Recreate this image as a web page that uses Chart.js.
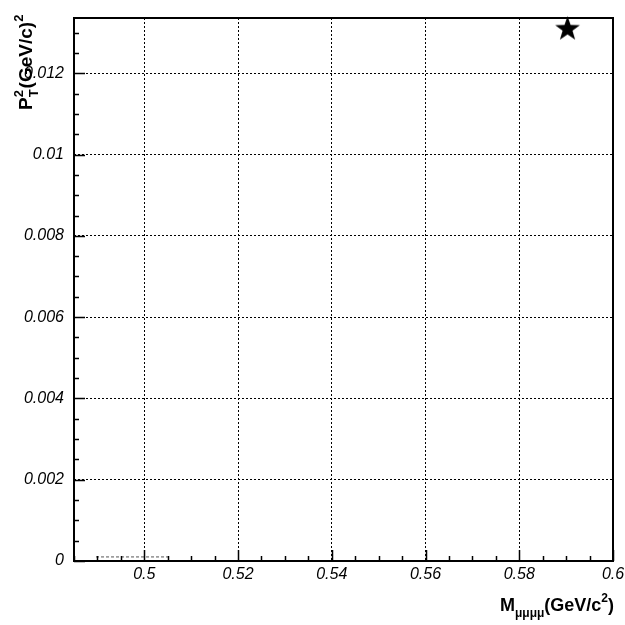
<!DOCTYPE html>
<html>
<head>
<meta charset="UTF-8">
<title>PT2 vs M</title>
<script src="https://cdn.jsdelivr.net/npm/chart.js"></script>
<style>
  body { margin: 0; background: #fff; }
  #plot { display: block; }
</style>
</head>
<body>
<canvas id="plot" width="625" height="625"></canvas>
<script>
// axis ranges and tick labels
const X_RANGE = [0.485, 0.6];
const Y_RANGE = [0, 0.01336];
const X_TICKS = [0.5, 0.52, 0.54, 0.56, 0.58, 0.6];
const X_LABELS = ['0.5', '0.52', '0.54', '0.56', '0.58', '0.6'];
const Y_TICKS = [0, 0.002, 0.004, 0.006, 0.008, 0.01, 0.012];
const Y_LABELS = ['0', '0.002', '0.004', '0.006', '0.008', '0.01', '0.012'];
const X_MINOR = 0.005;
const Y_MINOR = 0.0005;

// the single candidate event
const eventM = [0.5903];
const eventPt2 = [0.01311];

// faint dashed segment along the bottom
const segM = [0.4897, 0.5056];
const segPt2 = [0.0001, 0.0001];

const FONT = "'Liberation Sans', Arial, Helvetica, sans-serif";

// filled five-point star used as the marker
function makeStar(size) {
  const c = document.createElement('canvas');
  c.width = size; c.height = size;
  const g = c.getContext('2d');
  const cx = size / 2, cy = size / 2 + 1, R = size / 2 - 0.5, r = R * 0.4;
  g.beginPath();
  for (let i = 0; i < 10; i++) {
    const rad = i % 2 ? r : R;
    const a = -Math.PI / 2 + i * Math.PI / 5;
    g.lineTo(cx + rad * Math.cos(a), cy + rad * Math.sin(a));
  }
  g.closePath();
  g.fillStyle = '#000';
  g.fill();
  return c;
}
const star = makeStar(27);

// frame, inward ticks and axis titles
const decor = {
  id: 'decor',
  afterDraw(chart) {
    const ctx = chart.ctx;
    const a = chart.chartArea;
    const xs = chart.scales.x, ys = chart.scales.y;
    ctx.save();
    ctx.strokeStyle = '#000';
    ctx.lineWidth = 1.5;
    ctx.beginPath();
    // x ticks
    for (let v = 0.485; v <= X_RANGE[1] + 1e-9; v += X_MINOR) {
      const major = X_TICKS.some(t => Math.abs(t - v) < 1e-6);
      const px = Math.round(xs.getPixelForValue(v)) + 0.5;
      ctx.moveTo(px, a.bottom);
      ctx.lineTo(px, a.bottom - (major ? 11 : 5));
    }
    // y ticks
    for (let v = 0; v <= Y_RANGE[1] + 1e-9; v += Y_MINOR) {
      const major = Y_TICKS.some(t => Math.abs(t - v) < 1e-7);
      const py = Math.round(ys.getPixelForValue(v)) + 0.5;
      ctx.moveTo(a.left, py);
      ctx.lineTo(a.left + (major ? 11 : 5), py);
    }
    ctx.stroke();
    ctx.lineWidth = 2;
    ctx.strokeRect(a.left, a.top, a.right - a.left, a.bottom - a.top);

    ctx.fillStyle = '#000';
    ctx.textBaseline = 'alphabetic';
    // x title: M_{μμμμ}(GeV/c^{2})
    const big = 'bold 18px ' + FONT, small = 'bold 12px ' + FONT;
    const parts = [
      { t: 'M', f: big, dy: 0 },
      { t: 'μμμμ', f: small, dy: 6 },
      { t: '(GeV/c', f: big, dy: 0 },
      { t: '2', f: small, dy: -9 },
      { t: ')', f: big, dy: 0 }
    ];
    let w = 0;
    parts.forEach(p => { ctx.font = p.f; p.w = ctx.measureText(p.t).width; w += p.w; });
    let x = 614 - w;
    const base = 611;
    parts.forEach(p => { ctx.font = p.f; ctx.fillText(p.t, x, base + p.dy); x += p.w; });

    // y title: P_T^2(GeV/c)^2, rotated
    const ybig = 'bold 19px ' + FONT, ysmall = 'bold 13px ' + FONT;
    ctx.translate(32, 110);
    ctx.rotate(-Math.PI / 2);
    ctx.font = ybig;
    ctx.fillText('P', 0, 0);
    let lx = ctx.measureText('P').width;
    ctx.font = ysmall;
    ctx.fillText('T', lx, 6);
    ctx.fillText('2', lx, -9);
    lx += ctx.measureText('T').width + 1;
    ctx.font = ybig;
    ctx.fillText('(GeV/c)', lx, 0);
    lx += ctx.measureText('(GeV/c)').width;
    ctx.font = ysmall;
    ctx.fillText('2', lx, -9);
    ctx.restore();
  }
};

new Chart(document.getElementById('plot'), {
  type: 'scatter',
  data: {
    datasets: [
      {
        data: eventM.map((m, i) => ({ x: m, y: eventPt2[i] })),
        pointStyle: star,
        pointRadius: 13,
        clip: false
      },
      {
        type: 'line',
        data: segM.map((m, i) => ({ x: m, y: segPt2[i] })),
        borderColor: '#555',
        borderWidth: 1,
        borderDash: [3, 2],
        pointRadius: 0
      }
    ]
  },
  options: {
    responsive: false,
    animation: false,
    layout: { autoPadding: false, padding: { top: 18, right: 12, left: 0, bottom: 0 } },
    plugins: { legend: { display: false }, tooltip: { enabled: false } },
    scales: {
      x: {
        type: 'linear',
        min: X_RANGE[0],
        max: X_RANGE[1],
        afterBuildTicks: s => { s.ticks = X_TICKS.map(v => ({ value: v })); },
        afterFit: s => { s.height = 64; s.paddingRight = 0; s.paddingLeft = 0; },
        ticks: {
          color: '#000',
          font: { family: FONT, size: 16, style: 'italic' },
          padding: 4,
          maxRotation: 0,
          callback: v => X_LABELS[X_TICKS.findIndex(t => Math.abs(t - v) < 1e-9)]
        },
        grid: { color: '#000', lineWidth: 1, drawTicks: false },
        border: { display: false, dash: [2, 2] }
      },
      y: {
        type: 'linear',
        min: Y_RANGE[0],
        max: Y_RANGE[1],
        afterBuildTicks: s => { s.ticks = Y_TICKS.map(v => ({ value: v })); },
        afterFit: s => { s.width = 74; s.paddingTop = 0; s.paddingBottom = 0; },
        ticks: {
          color: '#000',
          font: { family: FONT, size: 16, style: 'italic' },
          padding: 10,
          callback: v => Y_LABELS[Y_TICKS.findIndex(t => Math.abs(t - v) < 1e-12)]
        },
        grid: { color: '#000', lineWidth: 1, drawTicks: false },
        border: { display: false, dash: [2, 2] }
      }
    }
  },
  plugins: [decor]
});
</script>
</body>
</html>
